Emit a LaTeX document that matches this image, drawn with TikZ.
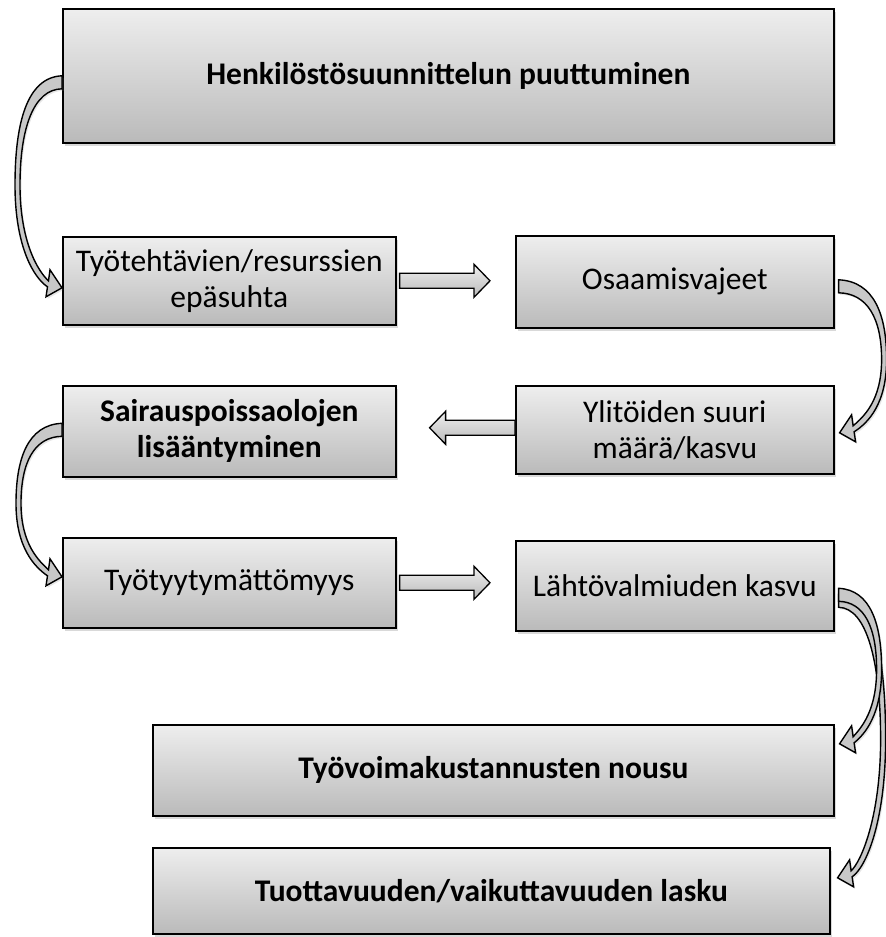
\documentclass[tikz,border=0pt]{standalone}
\usepackage{fontspec}
\setmainfont{Carlito}
\usetikzlibrary{calc,shadows}

\definecolor{boxtop}{RGB}{238,238,238}
\definecolor{boxbottom}{RGB}{186,186,186}
\definecolor{bandfill}{RGB}{200,200,200}

\tikzset{
  stagebox/.style={draw=black, line width=1.6pt, top color=boxtop, bottom color=boxbottom,
    drop shadow={shadow xshift=2.5pt, shadow yshift=-3.5pt, opacity=0.3},
    align=center, inner sep=0pt, anchor=north west,
    font=\fontsize{31.5}{36}\selectfont},
  keybox/.style={stagebox, font=\fontsize{31.5}{36}\selectfont\bfseries},
  flatarrow/.style={draw=black, line width=1.3pt, top color=boxtop, bottom color=boxbottom,
    line join=miter},
  bendband/.style={draw=black, line width=1.4pt, fill=bandfill, line join=miter,
    drop shadow={shadow xshift=1.5pt, shadow yshift=-2pt, opacity=0.2}}
}

% straight block arrow: #1 tail point, #2 tip point, #3 direction (1 right, -1 left)
\newcommand{\flatarrow}[3]{%
  \draw[flatarrow] let \p1=(#1), \p2=(#2) in
    (\x1,\y1+7.5pt) -- ({\x2-(#3)*16pt},\y1+7.5pt) -- ({\x2-(#3)*16pt},\y1+16.5pt)
    -- (\x2,\y1) -- ({\x2-(#3)*16pt},\y1-16.5pt) -- ({\x2-(#3)*16pt},\y1-7.5pt)
    -- (\x1,\y1-7.5pt) -- cycle;}

% curved block arrow: #1 start point, #2 tip point, #3 side (1 left, -1 right), #4 bulge
\newcommand{\bendarrow}[4]{%
  \draw[bendband] let \p1=(#1), \p2=(#2) in
    (\x1,\y1+6.5pt)
    .. controls ({\x1-(#3)*0.75*(#4)},\y1+5pt) and ({\x1-(#3)*(#4)},{\y1-0.2*(\y1-\y2)})
    .. ({\x1-(#3)*(#4)},{\y1-0.5*(\y1-\y2)})
    .. controls ({\x1-(#3)*(#4)},{\y1-0.8*(\y1-\y2)}) and ({\x2-(#3)*0.6*(#4)},\y2+10pt)
    .. ({\x2-(#3)*14.5pt},\y2+1pt)
    -- ({\x2-(#3)*16pt},\y2-9pt)
    -- (\x2,\y2)
    -- ({\x2-(#3)*12pt},\y2+18pt)
    -- ({\x2-(#3)*13.5pt},\y2+7pt)
    .. controls ({\x2-(#3)*0.5*(#4)},\y2+16pt) and ({\x1-(#3)*((#4)-5pt)},{\y1-0.78*(\y1-\y2)})
    .. ({\x1-(#3)*((#4)-5pt)},{\y1-0.5*(\y1-\y2)})
    .. controls ({\x1-(#3)*((#4)-5pt)},{\y1-0.22*(\y1-\y2)}) and ({\x1-(#3)*0.6*(#4)},\y1-7pt)
    .. (\x1,\y1-6.5pt) -- cycle;}

\begin{document}
\begin{tikzpicture}[x=1pt,y=-1pt]
  \useasboundingbox (0,0) rectangle (886,937);

  % stages of the chain
  \node[keybox, minimum width=771pt, minimum height=134pt] (top) at (62,8)
    {Henkilöstösuunnittelun puuttuminen};
  \node[stagebox, minimum width=333pt, minimum height=88pt] (mis) at (62,236)
    {Työtehtävien/resurssien\\epäsuhta};
  \node[stagebox, minimum width=318pt, minimum height=92pt] (gap) at (515,235)
    {Osaamisvajeet};
  \node[stagebox, minimum width=318pt, minimum height=88pt] (over) at (515,385)
    {Ylitöiden suuri\\määrä/kasvu};
  \node[keybox, minimum width=333pt, minimum height=91pt] (sick) at (62,385)
    {Sairauspoissaolojen\\lisääntyminen};
  \node[stagebox, minimum width=333pt, minimum height=90pt] (dis) at (62,537)
    {Työtyytymättömyys};
  \node[stagebox, minimum width=318pt, minimum height=90pt] (leave) at (515,540)
    {Lähtövalmiuden kasvu};
  \node[keybox, minimum width=681pt, minimum height=91pt] (cost) at (152,724)
    {Työvoimakustannusten nousu};
  \node[keybox, minimum width=677pt, minimum height=86pt] (prod) at (152,847)
    {Tuottavuuden/vaikuttavuuden lasku};

  % straight block arrows
  \flatarrow{$(mis.east)+(3,0)$}{$(gap.west)+(-25,0)$}{1}
  \flatarrow{$(over.west)+(0,-2)$}{$(sick.east)+(33,0)$}{-1}
  \flatarrow{$(dis.east)+(3,0)$}{$(leave.west)+(-25,0)$}{1}

  % curved block arrows
  \bendarrow{$(top.west)+(0,6.5)$}{$(mis.west)+(0,7)$}{1}{47pt}
  \bendarrow{$(sick.west)+(0,-1.5)$}{$(dis.west)+(0,-6)$}{1}{46pt}
  \bendarrow{$(gap.east)+(4,4.5)$}{$(over.east)+(5,3)$}{-1}{48pt}
  \bendarrow{$(leave.east)+(4,15)$}{$(prod.east)+(7,-13)$}{-1}{47pt}
  \bendarrow{$(leave.east)+(4,9)$}{$(cost.east)+(5,-26.5)$}{-1}{43pt}
\end{tikzpicture}
\end{document}
